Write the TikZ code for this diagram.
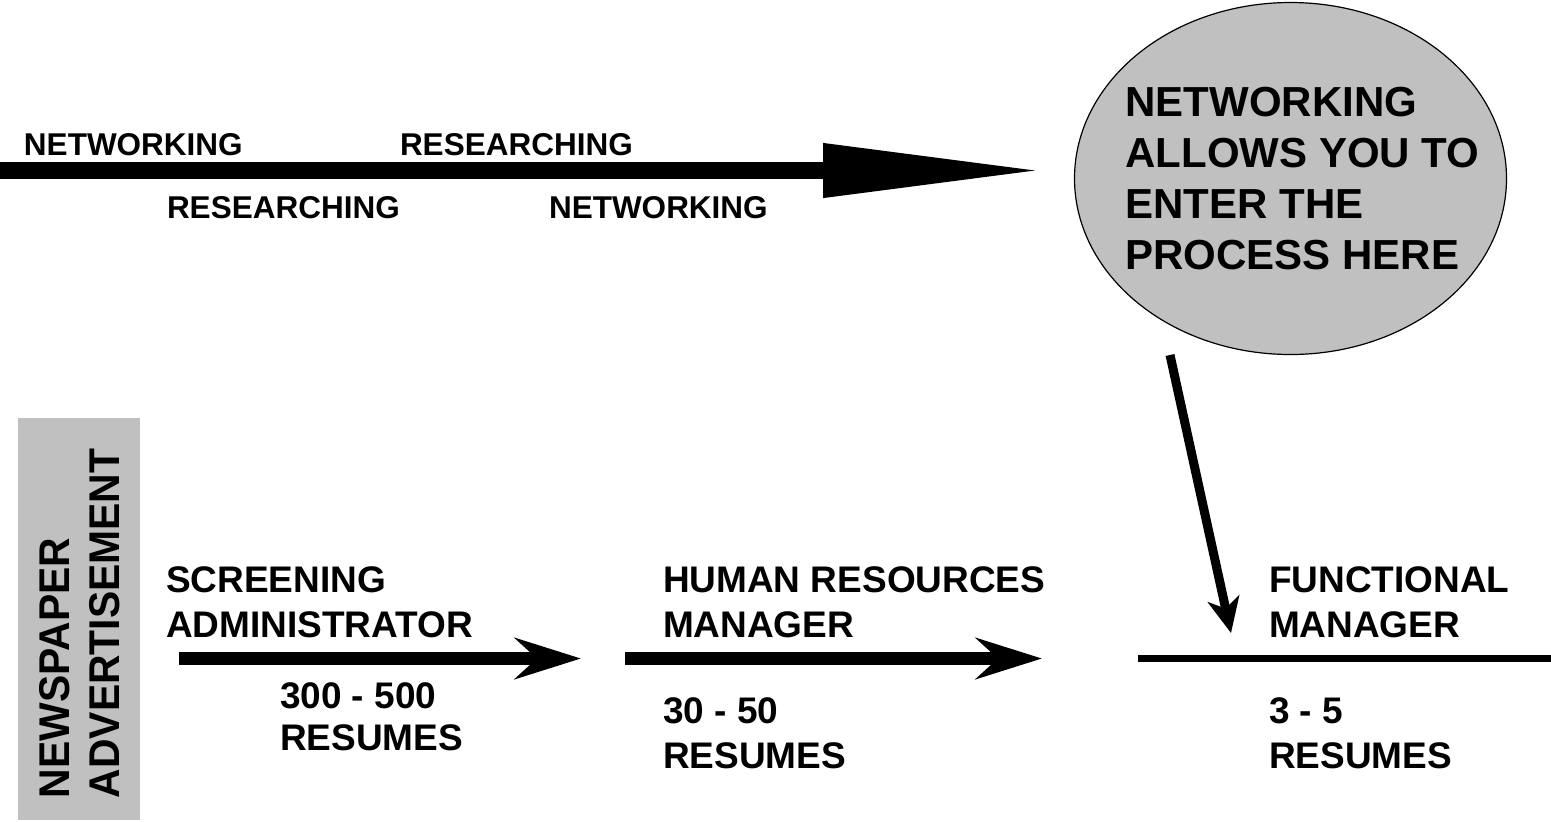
\documentclass[tikz,border=0pt]{standalone}
\usepackage{fontspec}
\setmainfont{Liberation Sans}
\usetikzlibrary{arrows.meta,shapes.geometric}
\definecolor{shade}{RGB}{192,192,192}
\tikzset{
  lbl/.style={inner sep=0pt, outer sep=0pt, align=left, font=\bfseries\fontsize{18.5}{22.5}\selectfont},
  toplbl/.style={inner sep=0pt, outer sep=0pt, anchor=base west, font=\bfseries\fontsize{15.75}{18}\selectfont},
  bigarrow/.style={line width=8.5pt, -{Triangle[length=111pt, width=25pt]}},
  flowarrow/.style={line width=6.5pt, -{Stealth[length=33pt, width=20.5pt, inset=11pt]}},
  entryarrow/.style={line width=4.5pt, -{Stealth[length=17.5pt, width=16pt, inset=5pt]}},
  bubble/.style={ellipse, draw=black, line width=0.6pt, fill=shade, minimum width=216pt, minimum height=176pt, inner sep=0pt},
}
\begin{document}
\begin{tikzpicture}[x=0.5pt, y=-0.5pt]
\useasboundingbox (0,0) rectangle (1551,821);

% top arrow
\coordinate (topstart) at (0,170.5);
\coordinate (toptip) at (1045,170.5);
\draw[bigarrow] (topstart) -- (toptip);
\node[toplbl] (net1) at (24,155) {NETWORKING};
\node[toplbl] (res1) at (400,155) {RESEARCHING};
\node[toplbl] (res2) at (167,218) {RESEARCHING};
\node[toplbl] (net2) at (549,218) {NETWORKING};

% bubble
\node[bubble] (bubble) at (1290.5,178.5) {};
\node[inner sep=0pt, anchor=north west, align=left, font=\bfseries\fontsize{21}{25.5}\selectfont] (bubbletext) at (1125,86.5)
  {NETWORKING\\ALLOWS YOU TO\\ENTER THE\\PROCESS HERE};

% newspaper box
\node[fill=shade, minimum width=61pt, minimum height=201pt, inner sep=0pt] (adbox) at (79,619) {};
\node[inner sep=0pt, rotate=90, anchor=north west, font=\bfseries\fontsize{21.5}{25}\selectfont] (adtext) at (34.5,798.5)
  {\scalebox{0.95}[1]{\begin{tabular}{@{}l@{}}NEWSPAPER\\ADVERTISEMENT\end{tabular}}};

% bottom flow
\coordinate (a1s) at (179,658.5);
\coordinate (a1e) at (581,658.5);
\coordinate (a2s) at (625,658.5);
\coordinate (a2e) at (1042,658.5);
\coordinate (ls) at (1138,658.5);
\coordinate (le) at (1551,658.5);
\draw[flowarrow] (a1s) -- (a1e);
\draw[flowarrow] (a2s) -- (a2e);
\draw[line width=3.5pt] (ls) -- (le);

\node[lbl, anchor=north west] (screen) at (166,566.5) {SCREENING\\ADMINISTRATOR};
\node[lbl, anchor=north west, font=\bfseries\fontsize{18.5}{21}\selectfont] (c1) at (280,682.5) {300 - 500\\RESUMES};
\node[lbl, anchor=north west] (hrm) at (663,566.5) {HUMAN RESOURCES\\MANAGER};
\node[lbl, anchor=north west] (c2) at (663,697.5) {30 - 50\\RESUMES};
\node[lbl, anchor=north west] (fm) at (1269,566.5) {FUNCTIONAL\\MANAGER};
\node[lbl, anchor=north west] (c3) at (1269,697.5) {3 - 5\\RESUMES};

% entry arrow
\coordinate (es) at (1170,355);
\coordinate (ee) at (1231,633);
\draw[entryarrow] (es) -- (ee);
\end{tikzpicture}
\end{document}
